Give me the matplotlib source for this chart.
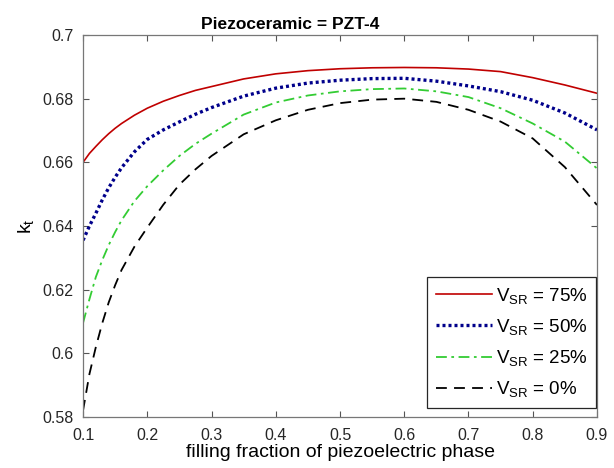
import matplotlib
matplotlib.use("Agg")
import matplotlib.pyplot as plt

plt.rcParams['font.family'] = ['Liberation Sans', 'DejaVu Sans']
plt.rcParams['mathtext.fontset'] = 'custom'
plt.rcParams['mathtext.rm'] = 'Liberation Sans'
plt.rcParams['mathtext.it'] = 'Liberation Sans'

# filling fraction of the piezoelectric phase
fraction = [0.10, 0.11, 0.12, 0.13, 0.14, 0.15, 0.16, 0.18, 0.20, 0.225, 0.25,
            0.275, 0.30, 0.35, 0.40, 0.45, 0.50, 0.55, 0.60, 0.65, 0.70, 0.75,
            0.80, 0.85, 0.90]

# thickness coupling coefficient k_t for each V_SR
kt_75 = [0.6600, 0.6628, 0.6650, 0.6671, 0.6690, 0.6707, 0.6722, 0.6748, 0.6770,
         0.6792, 0.6810, 0.6826, 0.6838, 0.6862, 0.6878, 0.6888, 0.6894, 0.6897,
         0.6898, 0.6897, 0.6893, 0.6885, 0.6866, 0.6843, 0.6817]
kt_50 = [0.6355, 0.6400, 0.6440, 0.6482, 0.6520, 0.6553, 0.6583, 0.6633, 0.6672,
         0.6702, 0.6727, 0.6751, 0.6772, 0.6808, 0.6833, 0.6849, 0.6858, 0.6863,
         0.6864, 0.6855, 0.6840, 0.6822, 0.6795, 0.6755, 0.6702]
kt_25 = [0.6095, 0.6170, 0.6240, 0.6293, 0.6340, 0.6381, 0.6418, 0.6478, 0.6525,
         0.6575, 0.6620, 0.6658, 0.6690, 0.6750, 0.6788, 0.6810, 0.6823, 0.6830,
         0.6832, 0.6823, 0.6805, 0.6770, 0.6722, 0.6665, 0.6581]
kt_0 = [0.5820, 0.5935, 0.6020, 0.6095, 0.6160, 0.6214, 0.6262, 0.6335, 0.6395,
        0.6467, 0.6530, 0.6578, 0.6620, 0.6688, 0.6732, 0.6765, 0.6786, 0.6797,
        0.6800, 0.6790, 0.6765, 0.6728, 0.6675, 0.6585, 0.6466]

labels = [r'V$_{\mathrm{SR}}$ = 75%', r'V$_{\mathrm{SR}}$ = 50%',
          r'V$_{\mathrm{SR}}$ = 25%', r'V$_{\mathrm{SR}}$ = 0%']

xticks = [0.1, 0.2, 0.3, 0.4, 0.5, 0.6, 0.7, 0.8, 0.9]
yticks = [0.58, 0.6, 0.62, 0.64, 0.66, 0.68, 0.7]

fig = plt.figure(figsize=(6.14, 4.68), dpi=100)
ax = fig.add_axes([0.1352, 0.109, 0.8371, 0.8162])

ax.plot(fraction, kt_75, color='#c00000', lw=1.2, ls='-', label=labels[0])
ax.plot(fraction, kt_50, color='#00008b', lw=2.4, ls=(0, (0.9, 0.9)), label=labels[1])
ax.plot(fraction, kt_25, color='#33cc33', lw=1.3, ls=(0, (6, 2.5, 1.5, 2.5)), label=labels[2])
ax.plot(fraction, kt_0, color='black', lw=1.3, ls=(0, (6, 4)), label=labels[3])

ax.set_xlim(0.1, 0.9)
ax.set_ylim(0.58, 0.7)
ax.set_xticks(xticks)
ax.set_xticklabels([f'{v:g}' for v in xticks])
ax.set_yticks(yticks)
ax.set_yticklabels([f'{v:g}' for v in yticks])

ax.tick_params(direction='in', top=True, right=True, length=4, width=0.8,
               colors='#555555', labelcolor='#262626', labelsize=11.5)
ax.tick_params(axis='y', pad=7)
ax.tick_params(axis='x', pad=8)
for s in ax.spines.values():
    s.set_color('#777777')
    s.set_linewidth(0.9)

ax.set_title('Piezoceramic = PZT-4', fontsize=12.5, fontweight='bold', pad=4, x=0.404)
ax.set_xlabel('filling fraction of piezoelectric phase', fontsize=14, labelpad=1)
ax.set_ylabel(r'k$_{\mathrm{t}}$', fontsize=14, labelpad=4)

leg = ax.legend(loc='lower right', bbox_to_anchor=(0.998, 0.024),
                fontsize=13.5, handlelength=3.0, handletextpad=0.2,
                labelspacing=0.6, borderpad=0.45, fancybox=False, framealpha=1,
                edgecolor='#262626', borderaxespad=0)
leg.get_frame().set_linewidth(0.9)

fig.savefig('out.png', dpi=100)
